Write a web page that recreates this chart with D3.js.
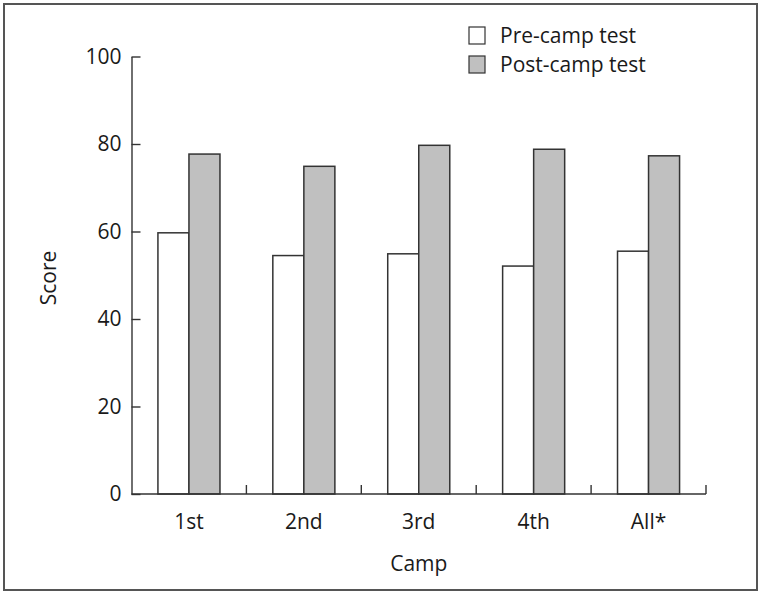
<!DOCTYPE html>
<html><head><meta charset="utf-8">
<script src="https://cdn.jsdelivr.net/npm/d3@7"></script>
<style>body{margin:0;background:#fff}svg{display:block}text{font-family:"Open Sans",sans-serif;fill:#1a1a1a}</style>
</head><body><svg id="c" width="762" height="595"></svg>
<script>
const categories = ["1st","2nd","3rd","4th","All*"];
const preCamp = [59.7, 54.5, 54.9, 52.1, 55.5];
const postCamp = [77.7, 74.9, 79.7, 78.8, 77.3];
const seriesNames = ["Pre-camp test","Post-camp test"];
const yTicks = [0,20,40,60,80,100];

(function(){
const FS = "21px";
const svg = d3.select("#c");
svg.append("rect").attr("x",4).attr("y",4).attr("width",753).attr("height",586)
  .attr("fill","none").attr("stroke","#555").attr("stroke-width",2);

const pLeft=131.5, pRight=706, pTop=56.5, pBottom=494;
const x0 = d3.scaleBand().domain(categories).range([pLeft,pRight]).paddingInner(0.46).paddingOuter(0.23);
const x1 = d3.scaleBand().domain(seriesNames).range([0,x0.bandwidth()]);
const y = d3.scaleLinear().domain([0,100]).range([pBottom,pTop]);
const fills = ["#ffffff","#c0c0c0"];
const data = categories.map((c,i)=>({c, vals:[preCamp[i], postCamp[i]]}));

const g = svg.append("g");
data.forEach(d=>{
  d.vals.forEach((v,j)=>{
    g.append("rect").attr("x",x0(d.c)+x1(seriesNames[j])).attr("y",y(v))
      .attr("width",x1.bandwidth()).attr("height",pBottom-y(v))
      .attr("fill",fills[j]).attr("stroke","#333").attr("stroke-width",1.5);
  });
});

const yAxis = d3.axisLeft(y).tickValues(yTicks).tickSizeInner(-9).tickSizeOuter(0).tickPadding(10);
const ya = svg.append("g").attr("transform",`translate(${pLeft},0)`).call(yAxis);
ya.selectAll("text").style("font-size",FS).attr("fill","#1a1a1a").style("font-family","'Open Sans',sans-serif");
ya.selectAll("line,path").attr("stroke","#333").attr("stroke-width",1.4);

const step = x0.step();
const xa = svg.append("g");
xa.append("line").attr("x1",pLeft).attr("x2",pRight).attr("y1",pBottom).attr("y2",pBottom).attr("stroke","#333").attr("stroke-width",1.4);
categories.forEach((c,i)=>{
  const bx = pLeft + step*(i+1);
  xa.append("line").attr("x1",bx).attr("x2",bx).attr("y1",pBottom).attr("y2",pBottom-9).attr("stroke","#333").attr("stroke-width",1.4);
  xa.append("text").attr("x",x0(c)+x0.bandwidth()/2).attr("y",529).attr("text-anchor","middle").style("font-size",FS).text(c);
});

svg.append("text").attr("x",(pLeft+pRight)/2).attr("y",571).attr("text-anchor","middle").style("font-size",FS).text("Camp");
svg.append("text").attr("transform","translate(56,278) rotate(-90)").attr("text-anchor","middle").style("font-size",FS).text("Score");

seriesNames.forEach((s,i)=>{
  const ly = 27 + i*29;
  svg.append("rect").attr("x",469).attr("y",ly).attr("width",16).attr("height",17)
    .attr("fill",fills[i]).attr("stroke","#333").attr("stroke-width",1.2);
  svg.append("text").attr("x",500).attr("y",ly+16).style("font-size",FS).text(s);
});
})();
</script></body></html>
